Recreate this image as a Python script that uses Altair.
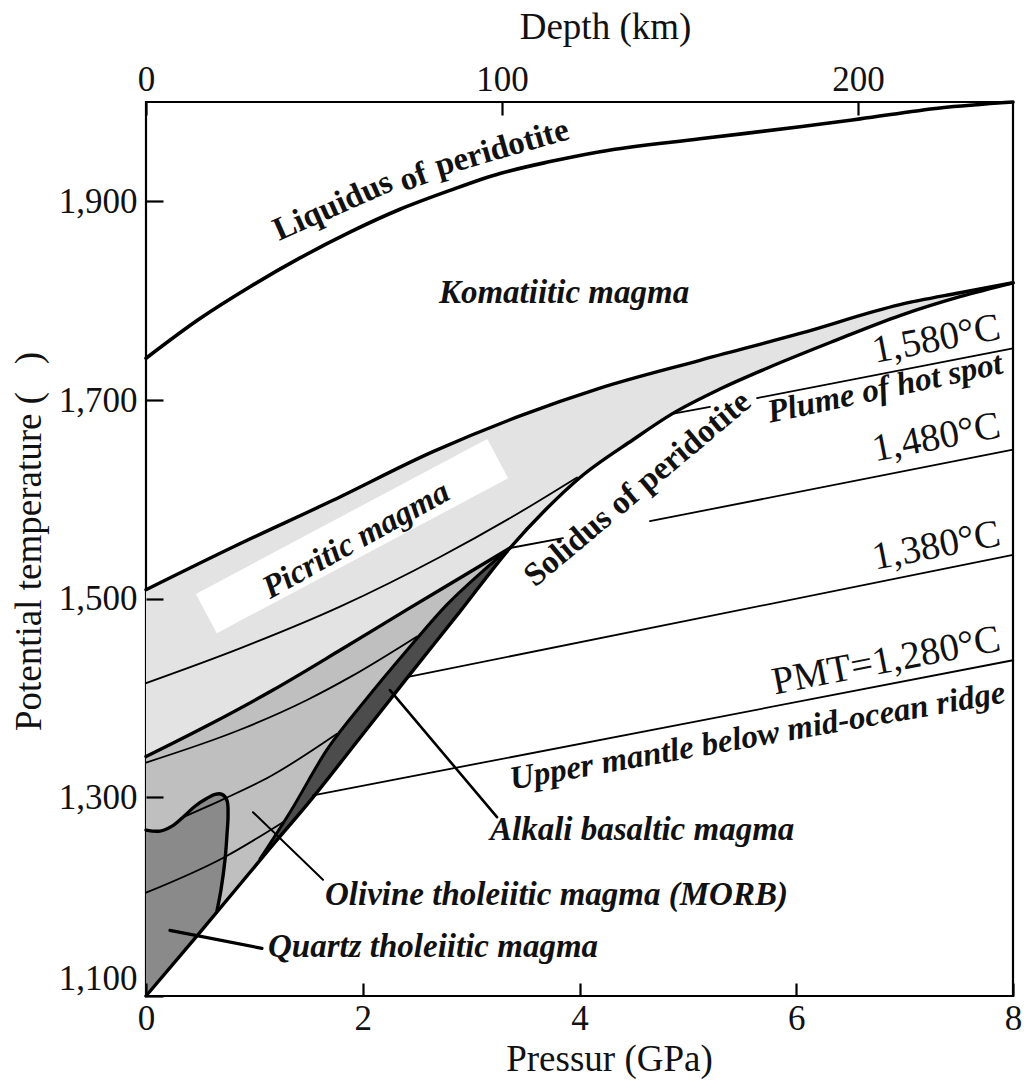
import altair as alt
import pandas as pd

# ---------------- values (P in GPa, T in °C) ----------------
liquidus_P = [0, 0.498, 0.960, 1.421, 1.882, 2.344, 2.805, 3.266, 3.728, 4.189, 5.112, 6.035, 6.588, 7.326, 8.0]
liquidus_T = [1742, 1782, 1814, 1843, 1869, 1892, 1911, 1928, 1940, 1950, 1963, 1975, 1983, 1994, 2000]

picrite_top_P = [0, 0.803, 1.725, 2.648, 3.451, 4.189, 5.112, 6.035, 6.957, 7.511, 8.0]
picrite_top_T = [1509, 1552, 1599, 1648, 1684, 1712, 1740, 1767, 1796, 1808, 1818]

solidus_P = [0, 0.498, 1.116, 1.541, 1.975, 2.408, 2.897, 3.359, 3.682, 4.005, 4.494, 4.854, 5.296, 5.730, 6.339, 6.957, 7.511, 8.0]
solidus_T = [1100, 1164, 1245, 1300, 1360, 1420, 1487, 1551, 1589, 1622, 1660, 1686, 1711, 1732, 1759, 1785, 1804, 1818]

picrite_base_P = [0, 0.563, 1.172, 1.790, 2.408, 2.962, 3.359]
picrite_base_T = [1341, 1372, 1408, 1448, 1489, 1525, 1551]

alkali_top_P = [1.052, 1.329, 1.670, 2.048, 2.408, 2.777, 3.100, 3.359]
alkali_top_T = [1238, 1285, 1348, 1401, 1448, 1494, 1527, 1551]

quartz_edge_P = [0, 0.129, 0.240, 0.341, 0.452, 0.563, 0.637, 0.701, 0.747, 0.757, 0.747, 0.729, 0.692, 0.655]
quartz_edge_T = [1267, 1266, 1271, 1280, 1291, 1299, 1303, 1303, 1297, 1282, 1262, 1237, 1207, 1186]

# melting paths inside the melting field
path1580_P = [0, 0.867, 1.790, 2.713, 3.451, 3.977]
path1580_T = [1415, 1450, 1492, 1542, 1587, 1622]
path1480_P = [0, 0.867, 1.486, 1.882, 2.501]
path1480_T = [1335, 1368, 1398, 1421, 1462]
path1380_P = [0.341, 0.710, 1.144, 1.762]
path1380_T = [1280, 1298, 1321, 1364]
path1280_P = [0, 0.710, 1.264]
path1280_T = [1204, 1239, 1275]

# sub-solidus adiabats (visible pieces)
ad1580a_P = [4.854, 5.204]
ad1580a_T = [1686, 1693]
ad1580b_P = [5.638, 8.0]
ad1580b_T = [1702, 1752]
ad1480a_P = [3.359, 3.848]
ad1480a_T = [1551, 1561]
ad1480b_P = [4.650, 8.0]
ad1480b_T = [1578, 1650]
ad1380_P = [2.408, 8.0]
ad1380_T = [1421, 1544]
ad1280_P = [1.541, 8.0]
ad1280_T = [1302, 1438]

# leader lines
lead_quartz_P = [0.221, 1.070]
lead_quartz_T = [1166, 1148]
lead_olivine_P = [0.987, 1.633]
lead_olivine_T = [1285, 1217]
lead_alkali_P = [2.251, 3.239]
lead_alkali_T = [1408, 1280]

# axes
p_ticks = [0, 2, 4, 6, 8]
t_ticks = [1100, 1300, 1500, 1700, 1900]
depth_ticks = [0, 100, 200]
DEPTH_AT_8GPA = 243.5
P_MIN, P_MAX = 0, 8
T_MIN, T_MAX = 1100, 2000

FONT = "Liberation Serif"


def xscale():
    return alt.Scale(domain=[P_MIN, P_MAX], nice=False, zero=False)


YS = alt.Scale(domain=[T_MIN, T_MAX], nice=False, zero=False)

# axes drawn with a negative offset so that their ticks point into the plot
XA = alt.Axis(
    values=p_ticks, offset=-13, tickSize=13, tickWidth=2.2, tickColor="black",
    domain=False, grid=False, zindex=1, labelFont=FONT,
    labelFontSize=35, labelPadding=5, labelColor="#111111", labelFlush=False,
    title="Pressur (GPa)", titleFont=FONT, titleFontSize=37, titleFontWeight="normal",
    titleColor="#111111", titleX=463, titleY=87, titleAlign="center",
    titleBaseline="alphabetic",
)
YA = alt.Axis(
    values=t_ticks, format=",d", offset=-17, tickSize=17, tickWidth=2.2, tickColor="black",
    domain=False, grid=False, zindex=1,
    labelFont=FONT, labelFontSize=35, labelPadding=9, labelColor="#111111",
    labelFlush=True,
    title="Potential temperature (\u00a0\u00a0\u00a0)", titleFont=FONT, titleFontSize=37,
    titleFontWeight="normal", titleColor="#111111", titleAngle=270,
    titleX=-123, titleY=439, titleAlign="center", titleBaseline="alphabetic",
)
DA = alt.Axis(
    orient="top", values=depth_ticks, offset=-13, tickSize=13, tickWidth=2.2,
    tickColor="black", domain=False, grid=False, zindex=1,
    labelFont=FONT, labelFontSize=35, labelPadding=5, labelColor="#111111",
    labelFlush=False,
    title="Depth (km)", titleFont=FONT, titleFontSize=37, titleFontWeight="normal",
    titleColor="#111111", titleX=459, titleY=-77, titleAlign="center",
    titleBaseline="alphabetic",
)


def X(field="P", axis=None):
    return alt.X(f"{field}:Q", scale=xscale(), axis=axis)


def Y(field="T", axis=None):
    return alt.Y(f"{field}:Q", scale=YS, axis=axis)


def table(P, T):
    return pd.DataFrame({"P": P, "T": T, "i": list(range(len(P)))})


def pts(P, T):
    return list(zip(P, T))


def poly(points, color):
    P = [p for p, _ in points]
    T = [t for _, t in points]
    return alt.Chart(table(P, T)).mark_line(
        fill=color, stroke=color, strokeWidth=0.6
    ).encode(x=X(), y=Y(), order="i:Q")


def curve(P, T, width, interp="monotone"):
    return alt.Chart(table(P, T)).mark_line(
        color="black", strokeWidth=width, strokeCap="round", strokeJoin="round",
        interpolate=interp,
    ).encode(x=X(), y=Y(), order="i:Q")


def label(text, P, T, size, angle=0, align="left", baseline="alphabetic",
          weight="bold", style="italic"):
    return alt.Chart(pd.DataFrame({"P": [P], "T": [T], "txt": [text]})).mark_text(
        font=FONT, fontSize=size, fontWeight=weight, fontStyle=style,
        angle=angle, align=align, baseline=baseline, color="#111111",
    ).encode(x=X(), y=Y(), text="txt:N")


# invisible layer that carries the pressure / temperature axes
axis_carrier = alt.Chart(pd.DataFrame({"P": p_ticks, "T": t_ticks})).mark_point(
    opacity=0
).encode(x=X("P", XA), y=Y("T", YA))

sol = pts(solidus_P, solidus_T)
pic_poly = (pts(picrite_top_P, picrite_top_T)
            + [p for p in sol if p[0] > 3.359][::-1]
            + pts(picrite_base_P, picrite_base_T)[::-1])
oliv_poly = (pts(picrite_base_P, picrite_base_T)
             + pts(alkali_top_P, alkali_top_T)[::-1][1:]
             + pts(quartz_edge_P, quartz_edge_T)[::-1])
alk_poly = (pts(alkali_top_P, alkali_top_T)
            + [p for p in sol if 1.052 < p[0] < 3.359][::-1])
qtz_poly = (pts(quartz_edge_P, quartz_edge_T)
            + [p for p in sol if p[0] < 0.655][::-1])

layers = [
    axis_carrier,
    poly(pic_poly, "#e3e3e3"),
    poly(oliv_poly, "#bfbfbf"),
    poly(qtz_poly, "#8a8a8a"),
    poly(alk_poly, "#4c4c4c"),
]

# white box behind "Picritic magma"
box = alt.Chart(pd.DataFrame({"P": [1.901], "T": [1563]})).mark_point(
    shape="M-1,-0.135L1,-0.135L1,0.135L-1,0.135Z", size=108900, filled=True,
    color="white", opacity=1, strokeWidth=0, angle=332,
).encode(x=X(), y=Y())
layers.append(box)

for P, T in [(path1580_P, path1580_T), (path1480_P, path1480_T),
             (path1380_P, path1380_T), (path1280_P, path1280_T),
             (ad1580a_P, ad1580a_T), (ad1580b_P, ad1580b_T),
             (ad1480a_P, ad1480a_T), (ad1480b_P, ad1480b_T),
             (ad1380_P, ad1380_T), (ad1280_P, ad1280_T)]:
    layers.append(curve(P, T, 1.8, "monotone"))

layers += [
    curve(liquidus_P, liquidus_T, 3.6),
    curve(picrite_top_P, picrite_top_T, 3.4),
    curve(solidus_P, solidus_T, 3.4),
    curve(picrite_base_P, picrite_base_T, 3.4),
    curve(alkali_top_P, alkali_top_T, 3.0),
    curve(quartz_edge_P, quartz_edge_T, 3.4, "catmull-rom"),
    curve(lead_quartz_P, lead_quartz_T, 3.2, "linear"),
    curve(lead_olivine_P, lead_olivine_T, 2.0, "linear"),
    curve(lead_alkali_P, lead_alkali_T, 2.6, "linear"),
]

# labels
layers += [
    label("Liquidus", 1.227, 1860, 33, angle=336, style="normal"),
    label("of", 2.380, 1910, 33, angle=340, style="normal"),
    label("peridotite", 2.700, 1925, 33, angle=344, style="normal"),
    label("Komatiitic magma", 3.857, 1798, 33, align="center"),
    label("Picritic magma", 1.938, 1559, 33, angle=331, align="center", baseline="middle"),
    label("Solidus of peridotite", 3.589, 1511, 33, angle=320, style="normal"),
    label("Plume of hot spot", 5.758, 1677, 33, angle=348),
    label("1,580°C", 7.898, 1762, 39, angle=349, align="right", weight="normal", style="normal"),
    label("1,480°C", 7.898, 1663, 39, angle=349, align="right", weight="normal", style="normal"),
    label("1,380°C", 7.898, 1554, 39, angle=349, align="right", weight="normal", style="normal"),
    label("PMT=1,280°C", 7.898, 1448, 39, angle=349, align="right", weight="normal", style="normal"),
    label("Upper mantle below mid-ocean ridge", 3.377, 1308, 33, angle=350),
    label("Alkali basaltic magma", 3.174, 1257, 33),
    label("Olivine tholeiitic magma (MORB)", 1.652, 1192, 33),
    label("Quartz tholeiitic magma", 1.126, 1139, 33),
]

depth_layer = alt.Chart(pd.DataFrame({"depth": depth_ticks, "T": [T_MAX] * len(depth_ticks)})).mark_point(
    opacity=0
).encode(
    x=alt.X("depth:Q", scale=alt.Scale(domain=[0, DEPTH_AT_8GPA], nice=False, zero=False),
            axis=DA),
    y=Y(),
)
layers.append(depth_layer)

chart = alt.layer(*layers).resolve_scale(x="independent").resolve_axis(
    x="independent", y="independent"
).properties(
    width=867, height=894,
    padding={"left": 146, "top": 102, "right": 19, "bottom": 85},
    autosize=alt.AutoSizeParams(type="none"),
    background="white",
).configure_view(stroke="black", strokeWidth=2.2)

chart.save("out.html", embed_options={"renderer": "svg", "actions": False})
